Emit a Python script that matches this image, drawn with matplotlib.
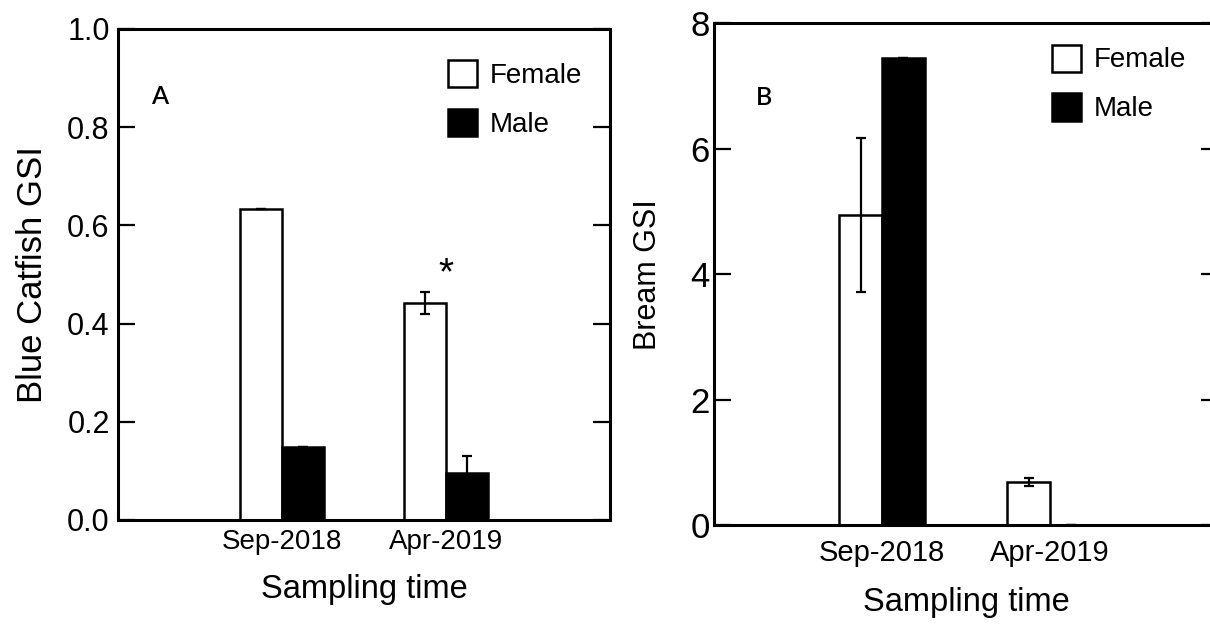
import numpy as np
import matplotlib
matplotlib.use("Agg")
import matplotlib.pyplot as plt

plt.rcParams["font.family"] = ["Liberation Sans", "DejaVu Sans"]

months = ["Sep-2018", "Apr-2019"]

catfish_female = [0.634, 0.442]
catfish_female_err = [0.0, 0.022]
catfish_male = [0.148, 0.096]
catfish_male_err = [0.0, 0.034]

bream_female = [4.95, 0.69]
bream_female_err = [1.23, 0.06]
bream_male = [7.45, 0.0]
bream_male_err = [0.0, 0.0]

W = 0.255


def draw_panel(ax, fem, fem_err, mal, mal_err, ylim, yticks, ylabel,
               tag, tag_xy, leg_xy, ysize, ypad, ylabsize, ylabpad,
               xsize, xpad, xlabpad):
    x = np.arange(len(months))
    ax.bar(x - W / 2, fem, W, color="white", edgecolor="black",
           linewidth=1.8, label="Female", zorder=2)
    ax.bar(x + W / 2, mal, W, color="black", edgecolor="black",
           linewidth=1.8, label="Male", zorder=2)
    ax.errorbar(x - W / 2, fem, yerr=fem_err, fmt="none", ecolor="black",
                elinewidth=1.6, capsize=3.5, capthick=1.6, zorder=3)
    ax.errorbar(x + W / 2, mal, yerr=mal_err, fmt="none", ecolor="black",
                elinewidth=1.6, capsize=3.5, capthick=1.6, zorder=3)

    ax.set_xlim(-1, 2)
    ax.set_ylim(*ylim)
    ax.set_yticks(yticks)
    ax.set_yticklabels([("%g" % t) if ylim[1] > 1 else "%.1f" % t
                        for t in yticks])
    ax.set_xticks(x)
    ax.set_xticklabels(months, fontsize=xsize)
    ax.tick_params(axis="x", length=0, pad=xpad)
    ax.tick_params(axis="y", direction="in", length=12, width=1.6,
                   labelsize=ysize, pad=ypad, right=True)
    for s in ax.spines.values():
        s.set_linewidth(2.2)
    ax.set_xlabel("Sampling time", fontsize=23.5, labelpad=xlabpad)
    ax.set_ylabel(ylabel, fontsize=ylabsize, labelpad=ylabpad)

    ax.text(tag_xy[0], tag_xy[1], tag, transform=ax.transAxes,
            fontsize=18, fontweight="semibold",
            family=["Lato", "DejaVu Sans"], va="top", ha="left")

    ax.legend(loc="upper left", bbox_to_anchor=leg_xy, frameon=False,
              fontsize=20, handlelength=1.05, handleheight=1.12,
              labelspacing=0.72, handletextpad=0.45, borderpad=0,
              borderaxespad=0)


fig = plt.figure(figsize=(12.1, 6.24), dpi=100)
axA = fig.add_axes([0.0975, 0.1667, 0.4066, 0.7869])
axB = fig.add_axes([0.5901, 0.1579, 0.4165, 0.8045])

draw_panel(axA, catfish_female, catfish_female_err, catfish_male,
           catfish_male_err, (0, 1.0), [0, 0.2, 0.4, 0.6, 0.8, 1.0],
           "Blue Catfish GSI", "A", (0.068, 0.885), (0.671, 0.937),
           22, 6, 25, 13, 20, 6.5, 14)
draw_panel(axB, bream_female, bream_female_err, bream_male,
           bream_male_err, (0, 8), [0, 2, 4, 6, 8],
           "Bream GSI", "B", (0.083, 0.875), (0.671, 0.958),
           25, 3, 22, 20, 21, 9.5, 15)

# significance mark over Apr-2019
axA.text(1, 0.48, "*", ha="center", va="baseline", fontsize=28)

fig.savefig("out.png", dpi=100)
